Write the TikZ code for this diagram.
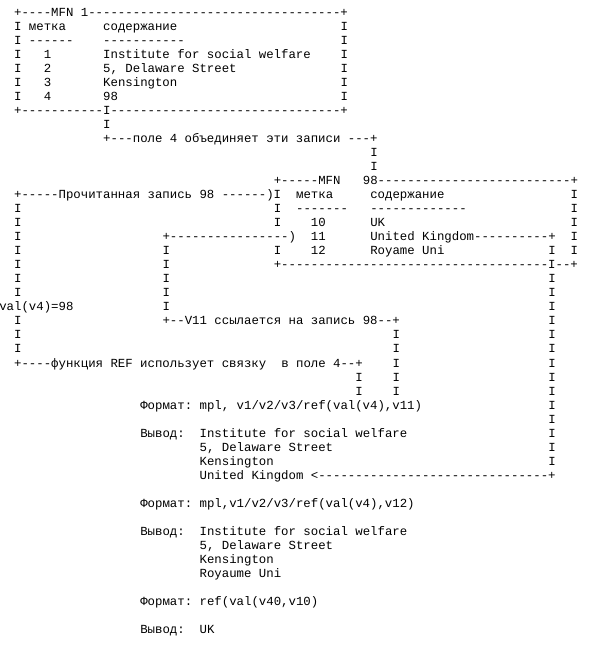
\documentclass[tikz,border=0pt]{standalone}
\usepackage{fontspec}
\setmonofont{Liberation Mono}
\ExplSyntaxOn
\NewDocumentCommand\dashrep{m}{\prg_replicate:nn{#1}{-}}
\ExplSyntaxOff
\tikzset{txt/.style={anchor=base west,inner sep=0pt,outer sep=0pt,text=black,
  font=\ttfamily\fontsize{12.36pt}{14pt}\selectfont}}
\newcommand\seg[4]{\node[txt] (#1) at ({7.42*#3-0.71},{-(16.5+14.02*#2)}) {#4};}
\begin{document}
\begin{tikzpicture}[x=1pt,y=1pt]
\useasboundingbox[fill=white] (0,0) rectangle (590,-646);
% MFN 1 box
\seg{a0}{0}{2}{+----MFN 1\dashrep{34}+}
\seg{a1a}{1}{2}{I}\seg{a1b}{1}{4}{метка}\seg{a1c}{1}{14}{содержание}\seg{a1d}{1}{46}{I}
\seg{a2a}{2}{2}{I}\seg{a2b}{2}{4}{\dashrep{6}}\seg{a2c}{2}{14}{\dashrep{11}}\seg{a2d}{2}{46}{I}
\seg{a3a}{3}{2}{I}\seg{a3b}{3}{6}{1}\seg{a3c}{3}{14}{Institute for social welfare}\seg{a3d}{3}{46}{I}
\seg{a4a}{4}{2}{I}\seg{a4b}{4}{6}{2}\seg{a4c}{4}{14}{5, Delaware Street}\seg{a4d}{4}{46}{I}
\seg{a5a}{5}{2}{I}\seg{a5b}{5}{6}{3}\seg{a5c}{5}{14}{Kensington}\seg{a5d}{5}{46}{I}
\seg{a6a}{6}{2}{I}\seg{a6b}{6}{6}{4}\seg{a6c}{6}{14}{98}\seg{a6d}{6}{46}{I}
\seg{a7}{7}{2}{+\dashrep{11}I\dashrep{31}+}
\seg{a8}{8}{14}{I}
\seg{a9}{9}{14}{+---поле 4 объединяет эти записи ---+}
\seg{a10}{10}{50}{I}
\seg{a11}{11}{50}{I}
% MFN 98 box
\seg{b12a}{12}{37}{+\dashrep{5}MFN}\seg{b12b}{12}{49}{98\dashrep{26}+}
\seg{b13a}{13}{2}{+-----Прочитанная запись 98 ------)I}\seg{b13b}{13}{40}{метка}\seg{b13c}{13}{50}{содержание}\seg{b13d}{13}{77}{I}
\seg{b14a}{14}{2}{I}\seg{b14b}{14}{37}{I}\seg{b14c}{14}{40}{\dashrep{7}}\seg{b14d}{14}{50}{\dashrep{13}}\seg{b14e}{14}{77}{I}
\seg{b15a}{15}{2}{I}\seg{b15b}{15}{37}{I}\seg{b15c}{15}{42}{10}\seg{b15d}{15}{50}{UK}\seg{b15e}{15}{77}{I}
\seg{b16a}{16}{2}{I}\seg{b16b}{16}{22}{+\dashrep{16})}\seg{b16c}{16}{42}{11}\seg{b16d}{16}{50}{United Kingdom\dashrep{10}+}\seg{b16e}{16}{77}{I}
\seg{b17a}{17}{2}{I}\seg{b17b}{17}{22}{I}\seg{b17c}{17}{37}{I}\seg{b17d}{17}{42}{12}\seg{b17e}{17}{50}{Royame Uni}\seg{b17f}{17}{74}{I}\seg{b17g}{17}{77}{I}
\seg{b18a}{18}{2}{I}\seg{b18b}{18}{22}{I}\seg{b18c}{18}{37}{+\dashrep{36}I--+}
% links
\seg{c19a}{19}{2}{I}\seg{c19b}{19}{22}{I}\seg{c19c}{19}{74}{I}
\seg{c20a}{20}{2}{I}\seg{c20b}{20}{22}{I}\seg{c20c}{20}{74}{I}
\seg{c21a}{21}{0}{val(v4)=98}\seg{c21b}{21}{22}{I}\seg{c21c}{21}{74}{I}
\seg{c22a}{22}{2}{I}\seg{c22b}{22}{22}{+--V11 ссылается на запись 98--+}\seg{c22c}{22}{74}{I}
\seg{c23a}{23}{2}{I}\seg{c23b}{23}{53}{I}\seg{c23c}{23}{74}{I}
\seg{c24a}{24}{2}{I}\seg{c24b}{24}{53}{I}\seg{c24c}{24}{74}{I}
\seg{c25a}{25}{2}{+----функция REF использует связку}\seg{c25b}{25}{38}{в поле 4--+}\seg{c25c}{25}{53}{I}\seg{c25d}{25}{74}{I}
\seg{c26a}{26}{48}{I}\seg{c26b}{26}{53}{I}\seg{c26c}{26}{74}{I}
\seg{c27a}{27}{48}{I}\seg{c27b}{27}{53}{I}\seg{c27c}{27}{74}{I}
% formats and outputs
\seg{d28a}{28}{19}{Формат: mpl, v1/v2/v3/ref(val(v4),v11)}\seg{d28b}{28}{74}{I}
\seg{d29}{29}{74}{I}
\seg{d30a}{30}{19}{Вывод:}\seg{d30b}{30}{27}{Institute for social welfare}\seg{d30c}{30}{74}{I}
\seg{d31a}{31}{27}{5, Delaware Street}\seg{d31b}{31}{74}{I}
\seg{d32a}{32}{27}{Kensington}\seg{d32b}{32}{74}{I}
\seg{d33}{33}{27}{United Kingdom <\dashrep{31}+}
\seg{e35}{35}{19}{Формат: mpl,v1/v2/v3/ref(val(v4),v12)}
\seg{e37a}{37}{19}{Вывод:}\seg{e37b}{37}{27}{Institute for social welfare}
\seg{e38}{38}{27}{5, Delaware Street}
\seg{e39}{39}{27}{Kensington}
\seg{e40}{40}{27}{Royaume Uni}
\seg{f42}{42}{19}{Формат: ref(val(v40,v10)}
\seg{f44a}{44}{19}{Вывод:}\seg{f44b}{44}{27}{UK}
\end{tikzpicture}
\end{document}
